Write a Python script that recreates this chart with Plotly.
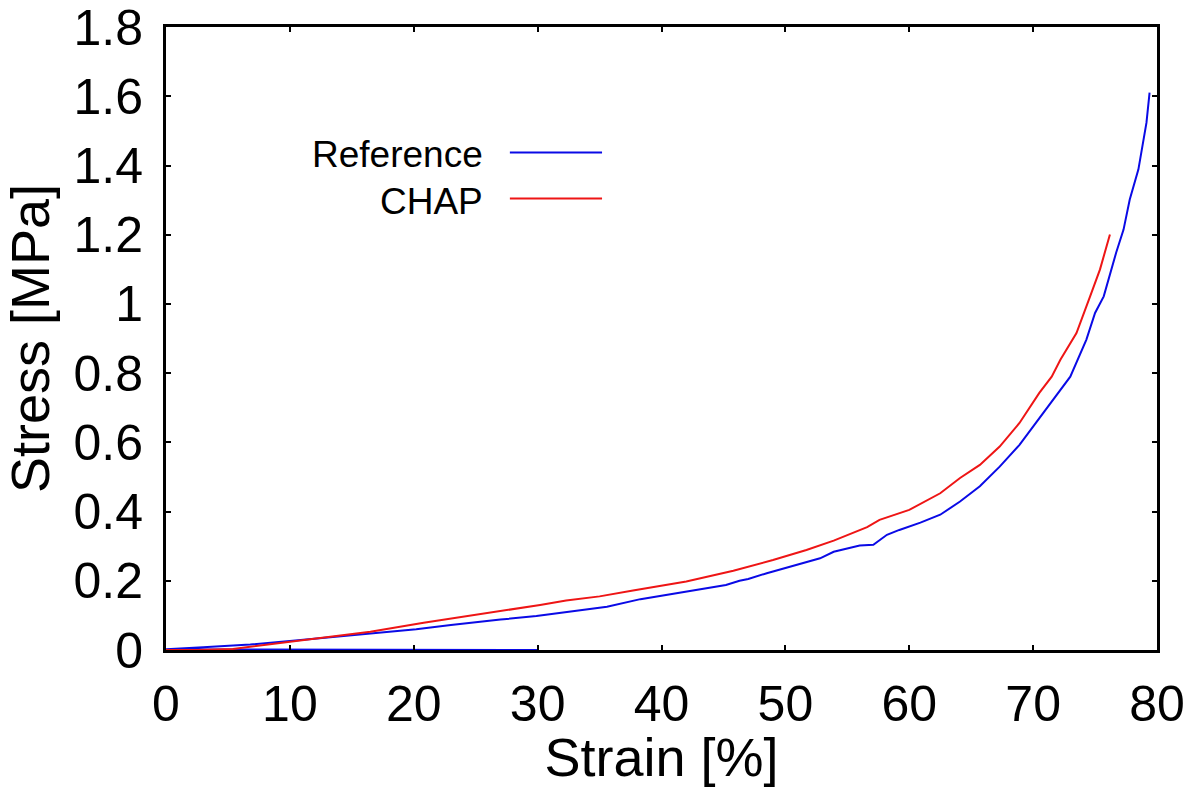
import plotly.graph_objects as go

# Reference series (includes the zero segment along the strain axis)
ref_strain = [30.0, 0.0, 3.0, 6.8, 10.0, 14.9, 20.2, 23.0, 25.6, 27.0, 29.9, 32.3, 35.6, 38.3,
              42.0, 45.2, 46.3, 47.0, 48.5, 50.1, 52.8, 53.9, 56.0, 57.1, 58.2, 59.2,
              60.9, 62.5, 64.1, 65.7, 67.3, 68.9, 70.5, 72.2, 73.0, 74.3, 75.0, 75.7,
              76.7, 77.3, 77.8, 78.5, 79.15, 79.4]
ref_stress = [0.0, 0.002, 0.008, 0.016, 0.026, 0.042, 0.060, 0.072, 0.083, 0.088, 0.098, 0.109,
              0.125, 0.147, 0.169, 0.188, 0.200, 0.205, 0.222, 0.238, 0.265, 0.284, 0.302,
              0.304, 0.333, 0.347, 0.368, 0.391, 0.429, 0.473, 0.530, 0.593, 0.670, 0.752,
              0.790, 0.897, 0.974, 1.022, 1.148, 1.215, 1.302, 1.389, 1.524, 1.611]

# CHAP series
chap_strain = [0.0, 2.5, 5.4, 10.0, 13.5, 16.5, 20.8, 25.6, 27.0, 30.2, 32.3, 35.0, 37.7, 40.0,
               42.0, 45.8, 49.0, 51.7, 53.9, 56.6, 57.6, 60.0, 62.5, 64.1, 65.7, 67.3,
               68.9, 70.5, 71.5, 72.2, 73.5, 74.6, 75.4, 76.2]
chap_stress = [0.0, 0.0, 0.003, 0.024, 0.039, 0.053, 0.079, 0.104, 0.113, 0.130, 0.143, 0.155,
               0.172, 0.186, 0.198, 0.229, 0.260, 0.289, 0.316, 0.355, 0.376, 0.405, 0.453,
               0.497, 0.535, 0.588, 0.656, 0.743, 0.790, 0.839, 0.916, 1.022, 1.100, 1.201]

series_names = ["Reference", "CHAP"]
series_colors = ["#0a0ae6", "#ee1515"]

x_ticks = [0, 10, 20, 30, 40, 50, 60, 70, 80]
y_ticks = [0, 0.2, 0.4, 0.6, 0.8, 1.0, 1.2, 1.4, 1.6, 1.8]
y_tick_text = ["0", "0.2", "0.4", "0.6", "0.8", "1", "1.2", "1.4", "1.6", "1.8"]

FONT = "Liberation Sans, Arial, sans-serif"

fig = go.Figure()
fig.add_trace(go.Scatter(x=ref_strain, y=ref_stress, mode="lines", name=series_names[0],
                         line=dict(color=series_colors[0], width=2), showlegend=False))
fig.add_trace(go.Scatter(x=chap_strain, y=chap_stress, mode="lines", name=series_names[1],
                         line=dict(color=series_colors[1], width=2), showlegend=False))

# Custom legend: text on the left, line sample on the right
leg_y = [0.7946, 0.7207]
for name, color, yy in zip(series_names, series_colors, leg_y):
    fig.add_annotation(xref="paper", yref="paper", x=0.322, y=yy, text=name,
                       showarrow=False, xanchor="right", yanchor="middle",
                       font=dict(family=FONT, size=37, color="black"))
    fig.add_shape(type="line", xref="paper", yref="paper", x0=0.347, x1=0.440,
                  y0=yy + 0.004, y1=yy + 0.004, line=dict(color=color, width=2))

axis_common = dict(showline=True, linecolor="black", linewidth=3, mirror="ticks",
                   ticks="inside", ticklen=5, tickwidth=2, tickcolor="black",
                   showgrid=False, zeroline=False, ticklabeloverflow="allow",
                   automargin=False,
                   tickfont=dict(family=FONT, size=50, color="black"))

fig.update_xaxes(range=[0, 80], tickvals=x_ticks,
                 title=dict(text="Strain [%]", font=dict(family=FONT, size=54, color="black"),
                            standoff=4),
                 ticklabelstandoff=8, **axis_common)
fig.update_yaxes(range=[0, 1.8005], tickvals=y_ticks, ticktext=y_tick_text,
                 title=dict(text="Stress [MPa]", font=dict(family=FONT, size=54, color="black"),
                            standoff=9),
                 ticklabelstandoff=10, **axis_common)

fig.update_layout(width=1201, height=787, plot_bgcolor="white", paper_bgcolor="white",
                  margin=dict(l=166, r=44, t=27, b=137), showlegend=False)

fig.write_html("out.html", config={"displayModeBar": False},
               post_script="document.body.style.margin='0';document.body.style.overflow='hidden';")
